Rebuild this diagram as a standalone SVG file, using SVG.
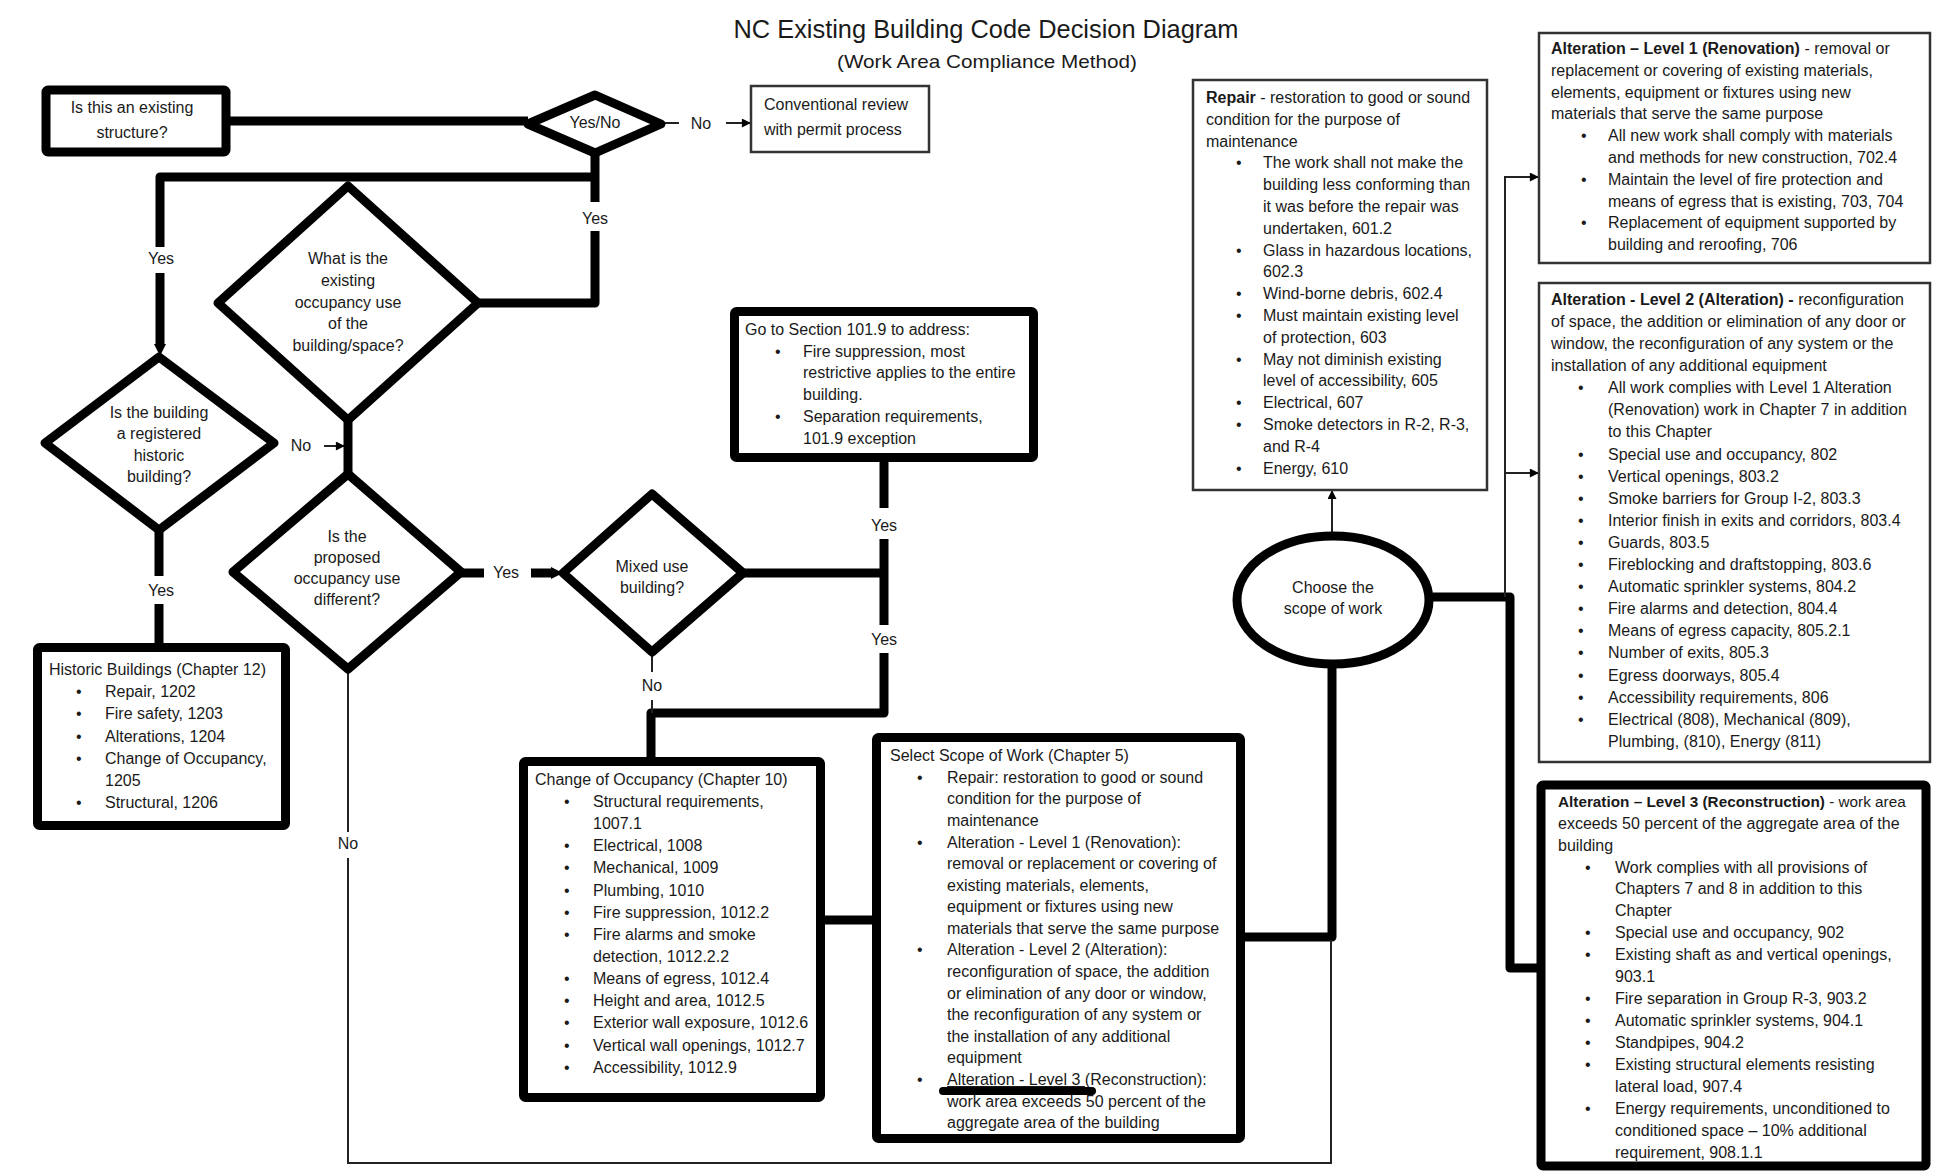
<svg xmlns="http://www.w3.org/2000/svg" width="1957" height="1173" viewBox="0 0 1957 1173">
<defs>
<style>
text{font-family:'Liberation Sans',Arial,sans-serif;font-size:16px;fill:#1a1a1a}
.c{text-anchor:middle}
.b{font-weight:bold}
.title{font-size:26px}
.sub{font-size:19px}
.thick{stroke:#000;stroke-width:9;fill:none;stroke-linejoin:round}
.thin{stroke:#222;stroke-width:2;fill:none}
.box{fill:#fff;stroke:#000;stroke-width:9;stroke-linejoin:round}
.tbox{fill:#fff;stroke:#333;stroke-width:2.5}
</style>
<marker id="ah" viewBox="0 0 10 10" refX="9" refY="5" markerWidth="11" markerHeight="9" markerUnits="userSpaceOnUse" orient="auto"><path d="M0,0 L10,5 L0,10 z" fill="#000"/></marker>
</defs>
<rect width="1957" height="1173" fill="#fff"/>

<g id="title">
<text class="title c" x="986" y="38" textLength="505" lengthAdjust="spacingAndGlyphs">NC Existing Building Code Decision Diagram</text>
<text class="sub c" x="987" y="68" textLength="300" lengthAdjust="spacingAndGlyphs">(Work Area Compliance Method)</text>
</g>

<g id="connectors">
<line class="thick" x1="229" y1="121" x2="528" y2="121"/>
<line class="thin" x1="663" y1="123" x2="679" y2="123"/>
<line class="thin" x1="726" y1="123" x2="750" y2="123" marker-end="url(#ah)"/>
<polyline class="thick" points="595,154 595,202"/>
<polyline class="thick" points="595,231 595,303 479,303"/>
<polyline class="thick" points="593,177 160,177 160,247"/>
<line class="thick" x1="160" y1="273" x2="160" y2="346"/>
<path d="M154,344 L166,344 L160,356 z" fill="#000"/>
<line class="thick" x1="159" y1="530" x2="159" y2="576"/>
<line class="thick" x1="159" y1="604" x2="159" y2="646"/>
<line class="thin" x1="324" y1="446" x2="344" y2="446" marker-end="url(#ah)"/>
<line class="thick" x1="348" y1="420" x2="348" y2="474"/>
<line class="thick" x1="461" y1="573" x2="484" y2="573"/>
<line class="thick" x1="531" y1="573" x2="552" y2="573"/>
<path d="M551,567 L563,573 L551,579 z" fill="#000"/>
<polyline class="thick" points="743,573 884,573"/>
<line class="thick" x1="884" y1="462" x2="884" y2="508"/>
<line class="thick" x1="884" y1="539" x2="884" y2="625"/>
<polyline class="thick" points="884,653 884,713 651,713 651,758"/>
<line class="thin" x1="652" y1="652" x2="652" y2="672"/>
<line class="thin" x1="652" y1="700" x2="652" y2="713"/>
<line class="thick" x1="825" y1="920" x2="872" y2="920"/>
<polyline class="thick" points="1245,937 1332,937 1332,667"/>
<line class="thin" x1="1332" y1="532" x2="1332" y2="491" marker-end="url(#ah)"/>
<polyline class="thick" points="1433,597 1510,597 1510,968 1537,968"/>
<polyline class="thin" points="1505,597 1505,177 1538,177" marker-end="url(#ah)"/>
<line class="thin" x1="1505" y1="473" x2="1538" y2="473" marker-end="url(#ah)"/>
<polyline class="thin" points="348,669 348,832"/>
<polyline class="thin" points="348,858 348,1163 1331,1163 1331,940"/>
</g>

<g id="labels">
<text class="c" x="701" y="129">No</text>
<text class="c" x="595" y="224">Yes</text>
<text class="c" x="161" y="264">Yes</text>
<text class="c" x="301" y="451">No</text>
<text class="c" x="161" y="596">Yes</text>
<text class="c" x="506" y="578">Yes</text>
<text class="c" x="652" y="691">No</text>
<text class="c" x="884" y="531">Yes</text>
<text class="c" x="884" y="645">Yes</text>
<text class="c" x="348" y="849">No</text>
</g>

<g id="existing-structure">
<rect class="box" x="46" y="90" width="180" height="62" rx="2"/>
<text class="c" x="132" y="113">Is this an existing</text>
<text class="c" x="132" y="138">structure?</text>
</g>

<g id="yes-no">
<polygon class="box" points="595,95 661,124 595,153 528,124"/>
<text class="c" x="595" y="128">Yes/No</text>
</g>

<g id="conventional">
<rect class="tbox" x="751" y="86" width="178" height="66"/>
<text x="764" y="110">Conventional review</text>
<text x="764" y="135">with permit process</text>
</g>

<g id="existing-occupancy">
<polygon class="box" points="348,186 478,303 348,420 218,303"/>
<text class="c" x="348" y="264">What is the</text>
<text class="c" x="348" y="286">existing</text>
<text class="c" x="348" y="308">occupancy use</text>
<text class="c" x="348" y="329">of the</text>
<text class="c" x="348" y="351">building/space?</text>
</g>

<g id="historic-question">
<polygon class="box" points="159,357 274,443 159,530 45,443"/>
<text class="c" x="159" y="418">Is the building</text>
<text class="c" x="159" y="439">a registered</text>
<text class="c" x="159" y="461">historic</text>
<text class="c" x="159" y="482">building?</text>
</g>

<g id="historic-buildings">
<rect class="box" x="37.5" y="647.5" width="248" height="178" rx="2"/>
<text x="49" y="675">Historic Buildings (Chapter 12)</text>
<text x="76" y="697">•</text><text x="105" y="697">Repair, 1202</text>
<text x="76" y="719">•</text><text x="105" y="719">Fire safety, 1203</text>
<text x="76" y="742">•</text><text x="105" y="742">Alterations, 1204</text>
<text x="76" y="764">•</text><text x="105" y="764">Change of Occupancy,</text>
<text x="105" y="786">1205</text>
<text x="76" y="808">•</text><text x="105" y="808">Structural, 1206</text>
</g>

<g id="proposed-occupancy">
<polygon class="box" points="348,474 461,572 348,669 233,572"/>
<text class="c" x="347" y="542">Is the</text>
<text class="c" x="347" y="563">proposed</text>
<text class="c" x="347" y="584">occupancy use</text>
<text class="c" x="347" y="605">different?</text>
</g>

<g id="mixed-use">
<polygon class="box" points="652,494 743,573 652,652 563,573"/>
<text class="c" x="652" y="572">Mixed use</text>
<text class="c" x="652" y="593">building?</text>
</g>

<g id="section-101-9">
<rect class="box" x="734.5" y="311.5" width="299" height="146" rx="2"/>
<text x="745" y="335">Go to Section 101.9 to address:</text>
<text x="775" y="357">•</text><text x="803" y="357">Fire suppression, most</text>
<text x="803" y="378">restrictive applies to the entire</text>
<text x="803" y="400">building.</text>
<text x="775" y="422">•</text><text x="803" y="422">Separation requirements,</text>
<text x="803" y="444">101.9 exception</text>
</g>

<g id="change-of-occupancy">
<rect class="box" x="523.5" y="761.5" width="297" height="336" rx="2"/>
<text x="535" y="785">Change of Occupancy (Chapter 10)</text>
<text x="564" y="807">•</text><text x="593" y="807">Structural requirements,</text>
<text x="593" y="829">1007.1</text>
<text x="564" y="851">•</text><text x="593" y="851">Electrical, 1008</text>
<text x="564" y="873">•</text><text x="593" y="873">Mechanical, 1009</text>
<text x="564" y="896">•</text><text x="593" y="896">Plumbing, 1010</text>
<text x="564" y="918">•</text><text x="593" y="918">Fire suppression, 1012.2</text>
<text x="564" y="940">•</text><text x="593" y="940">Fire alarms and smoke</text>
<text x="593" y="962">detection, 1012.2.2</text>
<text x="564" y="984">•</text><text x="593" y="984">Means of egress, 1012.4</text>
<text x="564" y="1006">•</text><text x="593" y="1006">Height and area, 1012.5</text>
<text x="564" y="1028">•</text><text x="593" y="1028">Exterior wall exposure, 1012.6</text>
<text x="564" y="1051">•</text><text x="593" y="1051">Vertical wall openings, 1012.7</text>
<text x="564" y="1073">•</text><text x="593" y="1073">Accessibility, 1012.9</text>
</g>

<g id="select-scope">
<rect class="box" x="876.5" y="737.5" width="364" height="401" rx="2"/>
<text x="890" y="761">Select Scope of Work (Chapter 5)</text>
<text x="917" y="783">•</text><text x="947" y="783">Repair: restoration to good or sound</text>
<text x="947" y="804">condition for the purpose of</text>
<text x="947" y="826">maintenance</text>
<text x="917" y="848">•</text><text x="947" y="848">Alteration - Level  1 (Renovation):</text>
<text x="947" y="869">removal or replacement or covering of</text>
<text x="947" y="891">existing materials, elements,</text>
<text x="947" y="912">equipment or fixtures using new</text>
<text x="947" y="934">materials that serve the same purpose</text>
<text x="917" y="955">•</text><text x="947" y="955">Alteration - Level 2 (Alteration):</text>
<text x="947" y="977">reconfiguration of space, the addition</text>
<text x="947" y="999">or elimination of any door or window,</text>
<text x="947" y="1020">the reconfiguration of any system or</text>
<text x="947" y="1042">the installation of any additional</text>
<text x="947" y="1063">equipment</text>
<text x="917" y="1085">•</text><text x="947" y="1085"><tspan text-decoration="underline">Alteration - Level 3 </tspan>(Reconstruction):</text>
<text x="947" y="1107">work area exceeds 50 percent of the</text>
<text x="947" y="1128">aggregate area of the building</text>
<line x1="943" y1="1091" x2="1092" y2="1091" stroke="#000" stroke-width="8" stroke-linecap="round"/>
</g>

<g id="choose-scope">
<ellipse class="box" cx="1333" cy="600" rx="96" ry="64"/>
<text class="c" x="1333" y="593">Choose the</text>
<text class="c" x="1333" y="614">scope of work</text>
</g>

<g id="repair">
<rect class="tbox" x="1193" y="80" width="294" height="410"/>
<text x="1206" y="103"><tspan class="b">Repair</tspan> - restoration to good or sound</text>
<text x="1206" y="125">condition for the purpose of</text>
<text x="1206" y="147">maintenance</text>
<text x="1236" y="168">•</text><text x="1263" y="168">The work shall not make the</text>
<text x="1263" y="190">building less conforming than</text>
<text x="1263" y="212">it was before the repair was</text>
<text x="1263" y="234">undertaken, 601.2</text>
<text x="1236" y="256">•</text><text x="1263" y="256">Glass in hazardous locations,</text>
<text x="1263" y="277">602.3</text>
<text x="1236" y="299">•</text><text x="1263" y="299">Wind-borne debris, 602.4</text>
<text x="1236" y="321">•</text><text x="1263" y="321">Must maintain existing level</text>
<text x="1263" y="343">of protection, 603</text>
<text x="1236" y="365">•</text><text x="1263" y="365">May not diminish existing</text>
<text x="1263" y="386">level of accessibility, 605</text>
<text x="1236" y="408">•</text><text x="1263" y="408">Electrical, 607</text>
<text x="1236" y="430">•</text><text x="1263" y="430">Smoke detectors in R-2, R-3,</text>
<text x="1263" y="452">and R-4</text>
<text x="1236" y="474">•</text><text x="1263" y="474">Energy, 610</text>
</g>

<g id="alteration-level-1">
<rect class="tbox" x="1539" y="33" width="391" height="230"/>
<text x="1551" y="54"><tspan class="b">Alteration – Level 1 (Renovation)</tspan> - removal or</text>
<text x="1551" y="76">replacement or covering of existing materials,</text>
<text x="1551" y="98">elements, equipment or fixtures using new</text>
<text x="1551" y="119">materials that serve the same purpose</text>
<text x="1581" y="141">•</text><text x="1608" y="141">All new work shall comply with materials</text>
<text x="1608" y="163">and methods for new construction, 702.4</text>
<text x="1581" y="185">•</text><text x="1608" y="185">Maintain the level of fire protection and</text>
<text x="1608" y="207">means of egress that is existing, 703, 704</text>
<text x="1581" y="228">•</text><text x="1608" y="228">Replacement of equipment supported by</text>
<text x="1608" y="250">building and reroofing, 706</text>
</g>

<g id="alteration-level-2">
<rect class="tbox" x="1539" y="283" width="391" height="479"/>
<text x="1551" y="305"><tspan class="b">Alteration - Level 2 (Alteration) -</tspan> reconfiguration</text>
<text x="1551" y="327">of space, the addition or elimination of any door or</text>
<text x="1551" y="349">window, the reconfiguration of any system or the</text>
<text x="1551" y="371">installation of any additional equipment</text>
<text x="1578" y="393">•</text><text x="1608" y="393">All work complies with Level 1 Alteration</text>
<text x="1608" y="415">(Renovation) work in Chapter 7 in addition</text>
<text x="1608" y="437">to this Chapter</text>
<text x="1578" y="460">•</text><text x="1608" y="460">Special use and occupancy, 802</text>
<text x="1578" y="482">•</text><text x="1608" y="482">Vertical openings, 803.2</text>
<text x="1578" y="504">•</text><text x="1608" y="504">Smoke barriers for Group I-2, 803.3</text>
<text x="1578" y="526">•</text><text x="1608" y="526">Interior finish in exits and corridors, 803.4</text>
<text x="1578" y="548">•</text><text x="1608" y="548">Guards, 803.5</text>
<text x="1578" y="570">•</text><text x="1608" y="570">Fireblocking and draftstopping, 803.6</text>
<text x="1578" y="592">•</text><text x="1608" y="592">Automatic sprinkler systems, 804.2</text>
<text x="1578" y="614">•</text><text x="1608" y="614">Fire alarms and detection, 804.4</text>
<text x="1578" y="636">•</text><text x="1608" y="636">Means of egress capacity, 805.2.1</text>
<text x="1578" y="658">•</text><text x="1608" y="658">Number of exits, 805.3</text>
<text x="1578" y="681">•</text><text x="1608" y="681">Egress doorways, 805.4</text>
<text x="1578" y="703">•</text><text x="1608" y="703">Accessibility requirements, 806</text>
<text x="1578" y="725">•</text><text x="1608" y="725">Electrical (808), Mechanical (809),</text>
<text x="1608" y="747">Plumbing, (810), Energy (811)</text>
</g>

<g id="alteration-level-3">
<rect class="box" x="1541" y="785" width="385" height="381" rx="2"/>
<text x="1558" y="807" style="font-size:15.3px"><tspan class="b">Alteration – Level 3 (Reconstruction)</tspan> - work area</text>
<text x="1558" y="829">exceeds 50 percent of the aggregate area of the</text>
<text x="1558" y="851">building</text>
<text x="1585" y="873">•</text><text x="1615" y="873">Work complies with all provisions of</text>
<text x="1615" y="894">Chapters 7 and 8 in addition to this</text>
<text x="1615" y="916">Chapter</text>
<text x="1585" y="938">•</text><text x="1615" y="938">Special use and occupancy, 902</text>
<text x="1585" y="960">•</text><text x="1615" y="960">Existing shaft as and vertical openings,</text>
<text x="1615" y="982">903.1</text>
<text x="1585" y="1004">•</text><text x="1615" y="1004">Fire separation in Group R-3, 903.2</text>
<text x="1585" y="1026">•</text><text x="1615" y="1026">Automatic sprinkler systems, 904.1</text>
<text x="1585" y="1048">•</text><text x="1615" y="1048">Standpipes, 904.2</text>
<text x="1585" y="1070">•</text><text x="1615" y="1070">Existing structural elements resisting</text>
<text x="1615" y="1092">lateral load, 907.4</text>
<text x="1585" y="1114">•</text><text x="1615" y="1114">Energy requirements, unconditioned to</text>
<text x="1615" y="1136">conditioned space – 10% additional</text>
<text x="1615" y="1158">requirement, 908.1.1</text>
</g>
</svg>
